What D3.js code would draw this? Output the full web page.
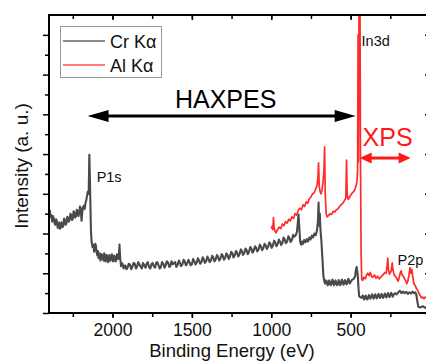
<!DOCTYPE html>
<html lang="en">
<head>
<meta charset="utf-8">
<title>HAXPES vs XPS survey</title>
<script src="https://d3js.org/d3.v7.min.js"></script>
<style>
  body { margin: 0; background: #fff; }
  svg { display: block; font-family: Arial, "Liberation Sans", sans-serif; }
</style>
</head>
<body>
<svg id="chart" width="426" height="363"></svg>
<script>
// Cr Ka (HAXPES) survey: [binding energy eV, intensity a.u.]
var crSpectrum = [
  [2400,2.50],[2395,2.58],[2390,2.42],[2385,2.46],[2380,2.30],[2375,2.44],[2370,2.38],[2365,2.26],
  [2360,2.22],[2355,2.36],[2350,2.30],[2345,2.14],[2340,2.18],[2335,2.28],[2330,2.12],[2325,2.20],
  [2320,2.28],[2315,2.16],[2310,2.20],[2305,2.38],[2300,2.34],[2295,2.22],[2290,2.26],[2285,2.42],
  [2280,2.40],[2275,2.30],[2270,2.36],[2265,2.50],[2260,2.46],[2255,2.34],[2250,2.38],[2245,2.56],
  [2240,2.52],[2235,2.40],[2230,2.44],[2225,2.60],[2220,2.56],[2215,2.44],[2210,2.50],[2205,2.68],
  [2200,2.64],[2195,2.32],[2190,2.56],[2185,2.66],[2180,2.70],[2175,2.62],[2170,2.78],[2165,2.84],
  [2160,2.96],[2156,3.05],[2150,3.00],[2146,3.98],[2142,3.30],[2136,2.10],[2132,1.80],
  [2126,1.66],[2120,1.72],[2116,1.54],[2112,1.60],[2108,1.74],[2104,1.68],[2100,1.52],[2096,1.45],
  [2092,1.56],[2088,1.38],[2084,1.46],[2080,1.50],[2076,1.32],[2072,1.36],[2068,1.48],
  [2064,1.44],[2060,1.36],[2056,1.32],[2052,1.50],[2048,1.46],[2044,1.30],[2040,1.34],[2036,1.46],
  [2032,1.40],[2028,1.28],[2024,1.30],[2020,1.46],[2016,1.42],[2012,1.32],[2008,1.36],[2004,1.48],
  [2000,1.44],[1996,1.30],[1992,1.33],[1988,1.44],[1984,1.40],[1980,1.30],[1976,1.35],[1972,1.48],
  [1968,1.46],[1964,1.36],[1960,1.42],[1956,1.72],[1952,1.40],
  [1946,1.18],[1938,1.25],[1930,1.12],[1920,1.20],[1912,1.10],[1905,1.14],[1898,1.24],[1890,1.22],
  [1882,1.10],[1875,1.16],[1868,1.26],[1860,1.24],[1852,1.12],
  [1845,1.17],[1838,1.28],[1830,1.22],[1822,1.16],[1815,1.12],[1808,1.26],[1800,1.20],[1792,1.14],
  [1785,1.24],[1778,1.28],[1770,1.16],[1762,1.12],[1755,1.22],[1748,1.26],[1740,1.18],
  [1732,1.14],[1725,1.26],[1718,1.28],[1710,1.20],[1702,1.12],[1695,1.16],[1688,1.28],[1680,1.24],
  [1672,1.14],[1665,1.20],[1658,1.30],[1650,1.27],[1642,1.16],[1635,1.19],[1628,1.30],[1620,1.23],
  [1605,1.28],[1598,1.16],[1590,1.21],[1582,1.32],[1575,1.26],[1568,1.18],[1560,1.22],[1552,1.34],
  [1545,1.30],[1538,1.20],[1530,1.24],[1522,1.34],[1515,1.28],[1508,1.20],[1500,1.23],
  [1492,1.36],[1485,1.31],[1478,1.22],[1470,1.26],[1462,1.38],[1455,1.32],[1448,1.24],[1440,1.28],
  [1432,1.40],[1425,1.35],[1418,1.26],[1410,1.30],[1402,1.42],[1395,1.36],[1388,1.28],[1380,1.32],
  [1372,1.44],[1365,1.40],[1358,1.30],[1350,1.35],[1342,1.46],[1335,1.41],[1328,1.32],[1320,1.37],
  [1312,1.48],[1305,1.44],[1298,1.34],[1290,1.39],[1282,1.50],[1275,1.46],[1268,1.36],[1260,1.42],
  [1252,1.54],[1245,1.50],[1238,1.40],[1230,1.45],[1222,1.56],[1215,1.52],[1208,1.42],[1200,1.48],
  [1192,1.60],[1185,1.56],[1178,1.46],[1170,1.51],[1162,1.62],[1155,1.58],[1148,1.48],[1140,1.54],
  [1132,1.66],[1125,1.62],[1118,1.52],[1110,1.57],[1102,1.68],[1095,1.64],[1088,1.55],[1080,1.60],
  [1072,1.72],[1065,1.68],[1058,1.58],[1050,1.63],[1042,1.74],[1035,1.70],[1028,1.61],[1020,1.66],
  [1012,1.78],[1005,1.74],[998,1.64],[990,1.69],[982,1.82],[975,1.78],[968,1.68],[960,1.73],
  [952,1.85],[945,1.80],[938,1.71],[930,1.76],[922,1.90],[915,1.85],[908,1.76],[900,1.80],
  [892,1.93],[885,1.88],[878,1.79],[870,1.84],[862,1.97],[855,1.92],[845,1.96],[838,2.05],
  [832,2.30],[828,2.48],[824,2.20],
  [818,1.80],[812,1.72],[806,1.80],[800,1.74],[792,1.84],[784,1.78],[776,1.86],[768,1.80],
  [760,1.90],[752,1.85],[744,1.95],[736,1.90],[728,2.00],[720,1.96],[712,2.08],[706,2.30],
  [702,2.78],[698,2.20],[694,2.50],[690,2.10],[684,1.80],[678,1.40],[672,0.95],[666,0.80],
  [660,0.74],[655,0.82],[650,0.80],[645,0.70],[640,0.72],[635,0.82],[630,0.78],[625,0.70],
  [620,0.74],[615,0.84],[610,0.80],[605,0.70],[600,0.73],[595,0.82],[590,0.77],[585,0.70],
  [580,0.72],[575,0.83],[570,0.79],[565,0.70],[560,0.75],[555,0.84],[550,0.80],[545,0.71],
  [540,0.74],[535,0.83],[530,0.78],[525,0.72],[520,0.76],[515,0.86],[510,0.82],[505,0.74],
  [500,0.78],[490,0.84],[480,0.86],[472,0.92],[466,1.10],[462,1.16],[458,1.05],[454,0.90],
  [450,0.60],[446,0.42],[440,0.40],[430,0.38],[425,0.44],[420,0.42],[415,0.34],[410,0.36],
  [405,0.44],[400,0.40],[395,0.34],[390,0.37],
  [385,0.45],[380,0.42],[375,0.36],[370,0.40],[365,0.47],[360,0.44],[355,0.36],[350,0.39],
  [345,0.47],[340,0.43],[335,0.37],[330,0.41],[325,0.48],[320,0.45],[315,0.38],[310,0.40],
  [305,0.48],[300,0.44],[295,0.38],[290,0.42],[285,0.49],[280,0.46],[275,0.39],[270,0.43],
  [265,0.50],[260,0.47],[255,0.40],[250,0.44],[245,0.51],[240,0.48],[235,0.41],[230,0.45],
  [220,0.50],[210,0.47],[200,0.52],[190,0.56],[180,0.50],[170,0.54],[160,0.50],[150,0.53],
  [140,0.48],[130,0.52],[120,0.49],[110,0.54],[100,0.50],[92,0.52],[86,0.46],[80,0.30],
  [74,0.16],[60,0.14],[45,0.17],[30,0.13],[15,0.16],[0,0.15]
];

// Al Ka (XPS) survey
var alSpectrum = [
  [1000,2.12],[995,2.18],[990,2.10],[986,2.40],[982,2.16],[976,2.05],[970,2.02],[960,2.10],
  [950,2.16],[940,2.12],[930,2.24],[920,2.20],[910,2.30],[900,2.26],[890,2.36],[880,2.32],
  [870,2.42],[860,2.38],[850,2.50],[840,2.46],[830,2.58],[820,2.64],[810,2.60],[800,2.72],
  [790,2.68],[780,2.80],[770,2.76],[760,2.88],[750,2.92],[740,3.00],[730,3.02],[720,3.12],
  [712,3.20],[706,3.40],[702,3.78],[698,3.20],[692,3.05],[686,3.00],[680,3.10],[674,3.30],
  [668,3.60],[664,4.18],[660,3.00],[654,2.50],[648,2.42],[640,2.45],[630,2.50],[620,2.48],
  [610,2.56],[600,2.54],[590,2.60],[580,2.62],[570,2.68],[560,2.72],[550,2.76],[540,2.82],
  [530,2.90],[526,3.85],[522,3.00],[516,2.86],[508,2.90],[500,2.96],[490,3.02],[480,3.06],
  [472,3.12],[466,3.20],[460,3.30],[456,3.60],[453,7.00],[451,3.80],[448,6.50],[446,9.00],
  [442,9.00],[438,4.00],[434,1.50],[430,0.85],[424,0.82],[416,0.90],[408,0.86],[400,0.95],
  [392,1.00],[384,0.94],[376,1.02],[368,0.92],[360,0.90],[350,0.96],[340,0.88],[330,0.92],
  [320,0.86],[310,0.90],[300,0.94],[292,0.98],[284,1.02],[276,1.00],[270,1.20],[266,1.38],
  [262,1.10],[256,0.98],[250,1.02],[244,1.06],[238,1.26],[234,1.10],[226,0.96],[218,0.92],
  [210,0.88],[202,0.80],[196,0.86],[188,1.00],[182,1.06],[176,0.96],[168,0.92],[160,0.86],
  [152,0.80],[146,0.74],[140,0.80],[132,0.96],[126,1.14],[120,1.00],[114,1.10],[108,0.90],
  [102,0.74],[94,0.70],[86,0.62],[78,0.58],[70,0.50],[62,0.44],[54,0.38],[46,0.40],
  [38,0.36],[30,0.40],[20,0.38],[10,0.40],[0,0.38]
];

var seriesNames = ["Cr K\u03b1", "Al K\u03b1"];
var seriesColors = ["#4a4a4a", "#ff2b2b"];
var xMajorTicks = [2000, 1500, 1000, 500];
var xMinorTicks = [2250, 2000, 1750, 1500, 1250, 1000, 750, 500, 250];
var yMajorTicks = [0, 1, 2, 3, 4, 5, 6, 7];
var yMinorTicks = [0.5, 1.5, 2.5, 3.5, 4.5, 5.5, 6.5];

// peak labels: [text, energy, intensity]
var peakLabels = [["P1s", 2100, 3.3], ["In3d", 431, 6.72], ["P2p", 204, 1.21]];

var svg = d3.select("#chart");
var pLeft = 49, pRight = 430, pTop = 15, pBottom = 313;

var x = d3.scaleLinear().domain([2400, 0]).range([pLeft, pRight]);
var y = d3.scaleLinear().domain([0, 7.5]).range([pBottom, pTop]);

svg.append("defs").append("clipPath").attr("id", "plotclip")
  .append("rect").attr("x", pLeft).attr("y", pTop)
  .attr("width", pRight - pLeft).attr("height", pBottom - pTop);

var line = d3.line().x(function(d) { return x(d[0]); }).y(function(d) { return y(d[1]); });

var plot = svg.append("g").attr("clip-path", "url(#plotclip)");
plot.append("path").datum(crSpectrum).attr("d", line)
  .attr("fill", "none").attr("stroke", seriesColors[0]).attr("stroke-width", 2.1)
  .attr("stroke-linejoin", "round");
plot.append("path").datum(alSpectrum).attr("d", line)
  .attr("fill", "none").attr("stroke", seriesColors[1]).attr("stroke-width", 1.7)
  .attr("stroke-linejoin", "round");

// axes: bottom/left outward, top/right inward
function styleAxis(g) {
  g.select(".domain").remove();
  g.selectAll("line").attr("stroke", "#000").attr("stroke-width", 1.5);
}
svg.append("g").attr("transform", "translate(0," + pBottom + ")")
  .call(d3.axisBottom(x).tickValues(xMinorTicks).tickSize(4).tickFormat(""))
  .call(styleAxis);
var xb = svg.append("g").attr("transform", "translate(0," + pBottom + ")")
  .call(d3.axisBottom(x).tickValues(xMajorTicks).tickSize(5).tickPadding(6).tickFormat(d3.format("d")))
  .call(styleAxis);
xb.selectAll("text").attr("font-size", 17.5).attr("fill", "#111")
  .attr("font-family", "Arial, 'Liberation Sans', sans-serif");

svg.append("g").attr("transform", "translate(0," + pTop + ")")
  .call(d3.axisTop(x).tickValues(xMinorTicks).tickSize(-4).tickFormat(""))
  .call(styleAxis);
svg.append("g").attr("transform", "translate(0," + pTop + ")")
  .call(d3.axisTop(x).tickValues(xMajorTicks).tickSize(-5).tickFormat(""))
  .call(styleAxis);

svg.append("g").attr("transform", "translate(" + pLeft + ",0)")
  .call(d3.axisLeft(y).tickValues(yMinorTicks).tickSize(4).tickFormat(""))
  .call(styleAxis);
svg.append("g").attr("transform", "translate(" + pLeft + ",0)")
  .call(d3.axisLeft(y).tickValues(yMajorTicks).tickSize(6).tickFormat(""))
  .call(styleAxis);
svg.append("g").attr("transform", "translate(" + pRight + ",0)")
  .call(d3.axisRight(y).tickValues(yMajorTicks).tickSize(-5).tickFormat(""))
  .call(styleAxis);

// frame
svg.append("path")
  .attr("d", "M" + pRight + "," + pTop + "H" + pLeft + "V" + pBottom + "H" + pRight)
  .attr("fill", "none").attr("stroke", "#000").attr("stroke-width", 2);

// axis titles
svg.append("text").attr("x", 232).attr("y", 357)
  .attr("text-anchor", "middle").attr("font-size", 18.5).attr("fill", "#111")
  .text("Binding Energy (eV)");
svg.append("text").attr("transform", "translate(28,166) rotate(-90)")
  .attr("text-anchor", "middle").attr("font-size", 19).attr("fill", "#111")
  .text("Intensity (a. u.)");

// legend
var legend = svg.append("g");
legend.append("rect").attr("x", 60.5).attr("y", 26.5).attr("width", 101).attr("height", 51)
  .attr("fill", "#fff").attr("stroke", "#999").attr("stroke-width", 1);
seriesNames.forEach(function(name, i) {
  var ly = 41 + i * 24;
  legend.append("line").attr("x1", 63).attr("x2", 105).attr("y1", ly).attr("y2", ly)
    .attr("stroke", i === 0 ? "#666" : "#ff5050").attr("stroke-width", 1.5);
  legend.append("text").attr("x", 110).attr("y", ly + 6.5)
    .attr("font-size", 18).attr("fill", "#111").text(name);
});

// double-headed arrows
function arrow(g, x1, x2, yy, color, headLen, headHalf, width) {
  var a = Math.min(x1, x2), b = Math.max(x1, x2);
  g.append("line").attr("x1", a + headLen - 1).attr("x2", b - headLen + 1)
    .attr("y1", yy).attr("y2", yy).attr("stroke", color).attr("stroke-width", width);
  g.append("path").attr("fill", color)
    .attr("d", "M" + a + "," + yy + "L" + (a + headLen) + "," + (yy - headHalf) +
      "L" + (a + headLen) + "," + (yy + headHalf) + "Z");
  g.append("path").attr("fill", color)
    .attr("d", "M" + b + "," + yy + "L" + (b - headLen) + "," + (yy - headHalf) +
      "L" + (b - headLen) + "," + (yy + headHalf) + "Z");
}
var ann = svg.append("g");
arrow(ann, x(2157), x(468), y(4.96), "#000", 21, 6, 3);
arrow(ann, x(443), x(122), y(3.9), "#ff1a1a", 12, 5.5, 3);

ann.append("text").attr("x", x(1287)).attr("y", y(5.17))
  .attr("text-anchor", "middle").attr("font-size", 25).attr("fill", "#000").text("HAXPES");
ann.append("text").attr("x", x(267)).attr("y", y(4.2))
  .attr("text-anchor", "middle").attr("font-size", 25).attr("fill", "#ff1a1a").text("XPS");

peakLabels.forEach(function(p) {
  ann.append("text").attr("x", x(p[1])).attr("y", y(p[2]))
    .attr("font-size", 14.5).attr("fill", "#111").text(p[0]);
});
</script>
</body>
</html>
